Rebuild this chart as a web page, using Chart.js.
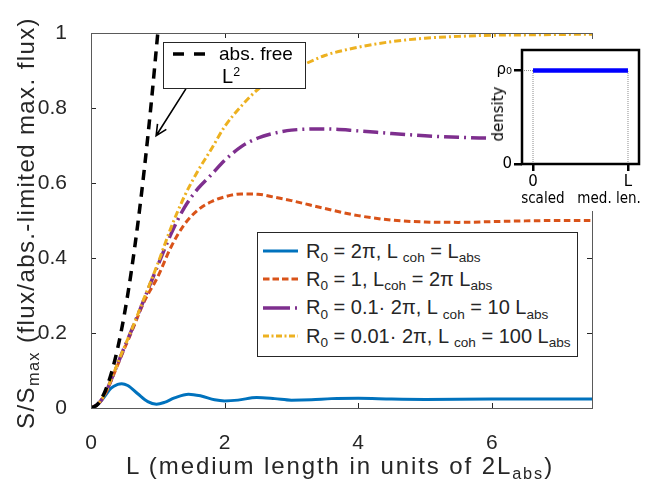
<!DOCTYPE html>
<html>
<head>
<meta charset="utf-8">
<script src="https://cdn.jsdelivr.net/npm/chart.js@4.4.1/dist/chart.umd.min.js"></script>
<style>
body { margin: 0; background: #fff; }
#wrap { position: relative; width: 646px; height: 486px; overflow: hidden;
        font-family: "Liberation Sans", Arial, sans-serif; color: #262626; }
#wrap canvas { position: absolute; }
.sub { font-size: 68%; position: relative; top: 0.32em; }
.sup { font-size: 62%; position: relative; top: -0.55em; }
#ytitle { position: absolute; left: 27px; top: 223px; white-space: nowrap; font-size: 24px;
          letter-spacing: 1.4px; transform: translate(-50%, -50%) rotate(-90deg); line-height: 24px; }
#xtitle { position: absolute; left: 340px; top: 454px; white-space: nowrap; font-size: 24px;
          letter-spacing: 1.9px; transform: translateX(-50%); line-height: 24px; }
#legend { position: absolute; left: 257px; top: 232px; width: 319px; height: 119px;
          border: 1px solid #262626; background: #fff; padding-top: 4px; box-sizing: content-box; }
#legend .row { display: flex; align-items: center; height: 28.3px; font-size: 20px; white-space: nowrap; }
#legend svg { margin-left: 5px; margin-right: 8px; flex: none; }
#note { position: absolute; left: 163px; top: 42px; width: 141px; height: 45px;
        border: 1px solid #262626; background: #fff; color: #000; }
#note .l1 { position: absolute; left: 9px; top: 0; height: 22px; display: flex; align-items: center;
            font-size: 19px; white-space: nowrap; }
#note .l2 { position: absolute; left: 58px; top: 22px; font-size: 20px; line-height: 22px; }
#insetLabelY { position: absolute; left: 498px; top: 114px; font-family: "DejaVu Sans", sans-serif;
               font-size: 15px; color: #000; transform: translate(-50%, -50%) rotate(-90deg); white-space: nowrap; }
#insetLabelX { position: absolute; left: 581px; top: 190px; font-family: "Liberation Sans Narrow", "DejaVu Sans Condensed", sans-serif;
               font-size: 15px; color: #000; transform: translateX(-50%); white-space: pre; line-height: 16px; }
</style>
</head>
<body>
<div id="wrap">
  <canvas id="main" width="646" height="486"></canvas>
  <div id="ytitle">S/S<span class="sub">max</span> (flux/abs.-limited max. flux)</div>
  <div id="xtitle">L (medium length in units of 2L<span class="sub">abs</span>)</div>
  <div id="note">
    <div class="l1"><svg width="34" height="6"><line x1="0" y1="3" x2="34" y2="3" stroke="#000" stroke-width="3.5" stroke-dasharray="11 10"/></svg><span style="margin-left:12px">abs. free</span></div>
    <div class="l2">L<span class="sup">2</span></div>
  </div>
  <div id="legend">
    <div class="row"><svg width="35" height="6"><line x1="0" y1="3" x2="35" y2="3" stroke="#0072BD" stroke-width="3"/></svg><span>R<span class="sub">0</span> = 2π, L <span class="sub">coh</span> = L<span class="sub">abs</span></span></div>
    <div class="row"><svg width="35" height="6"><line x1="0" y1="3" x2="35" y2="3" stroke="#D95319" stroke-width="3" stroke-dasharray="6.5 3"/></svg><span>R<span class="sub">0</span> = 1, L<span class="sub">coh</span> = 2π L<span class="sub">abs</span></span></div>
    <div class="row"><svg width="35" height="6"><line x1="0" y1="3" x2="35" y2="3" stroke="#7E2F8E" stroke-width="3.5" stroke-dasharray="27 5 2 5"/></svg><span>R<span class="sub">0</span> = 0.1· 2π, L <span class="sub">coh</span> = 10 L<span class="sub">abs</span></span></div>
    <div class="row"><svg width="35" height="6"><line x1="0" y1="3" x2="35" y2="3" stroke="#EDB120" stroke-width="3" stroke-dasharray="6 2.5 2 2.5"/></svg><span>R<span class="sub">0</span> = 0.01· 2π, L <span class="sub">coh</span> = 100 L<span class="sub">abs</span></span></div>
  </div>
  <canvas id="inset" width="157" height="172" style="left:489px;top:39px;background:#fff;"></canvas>
  <div id="insetLabelY">density</div>
  <div id="insetLabelX">scaled   med. len.</div>
</div>
<script>
// axis ticks
var xTicks = [0, 2, 4, 6];
var yTicks = [0, 0.2, 0.4, 0.6, 0.8, 1];
var yTickLabels = ['0', '0.2', '0.4', '0.6', '0.8', '1'];

// shared L grid for the three smooth curves
var lGrid = [0, 0.1, 0.2, 0.3, 0.4, 0.5, 0.6, 0.8, 1.0, 1.2, 1.4, 1.6, 1.8, 2.0, 2.25, 2.5, 2.75, 3.0, 3.5, 4.0, 4.5, 5.0, 5.5, 6.0, 6.5, 7.0, 7.5];
var orangeVals = [0, 0.009, 0.033, 0.072, 0.115, 0.158, 0.2, 0.285, 0.35, 0.43, 0.49, 0.528, 0.55, 0.563, 0.571, 0.57, 0.562, 0.553, 0.532, 0.513, 0.501, 0.496, 0.495, 0.497, 0.499, 0.5, 0.5];
var purpleVals = [0, 0.01, 0.034, 0.074, 0.118, 0.162, 0.204, 0.292, 0.38, 0.465, 0.535, 0.585, 0.622, 0.66, 0.697, 0.72, 0.733, 0.741, 0.744, 0.739, 0.732, 0.726, 0.722, 0.72, 0.72, 0.72, 0.72];
var yellowVals = [0, 0.01, 0.035, 0.075, 0.12, 0.163, 0.205, 0.295, 0.385, 0.482, 0.565, 0.632, 0.69, 0.75, 0.805, 0.85, 0.88, 0.9, 0.94, 0.962, 0.977, 0.986, 0.991, 0.994, 0.995, 0.996, 0.997];

// R0 = 2pi curve, finer near the wiggles
var blueL = [0, 0.1, 0.2, 0.3, 0.4, 0.46, 0.55, 0.7, 0.85, 0.98, 1.1, 1.25, 1.46, 1.65, 1.85, 2.0, 2.2, 2.48, 2.75, 3.0, 3.3, 3.6, 4.0, 4.5, 5.0, 6.0, 7.5];
var blueVals = [0, 0.009, 0.03, 0.053, 0.063, 0.065, 0.06, 0.038, 0.017, 0.01, 0.015, 0.027, 0.037, 0.032, 0.022, 0.019, 0.021, 0.028, 0.025, 0.021, 0.022, 0.025, 0.026, 0.024, 0.023, 0.024, 0.024];

// absorption free reference
var freeL = [0, 0.1, 0.2, 0.3, 0.4, 0.5, 0.6, 0.7, 0.8, 0.9, 1.0];
var freeVals = [0, 0.01, 0.04, 0.09, 0.16, 0.25, 0.36, 0.49, 0.64, 0.81, 1.0];

// arrow of the annotation, in data units: tail, head
var arrowFrom = [1.42, 0.851];
var arrowTo = [0.975, 0.726];

// inset: density profile
var insetX = [0, 1];
var insetDensity = [1, 1];

function pts(xs, ys) {
    return xs.map(function(x, i) { return {x: x, y: ys[i]}; });
}

var tickFont = {family: '"Liberation Sans", Arial, sans-serif', size: 21};

var frame = {
    id: 'frame',
    afterDatasetsDraw: function(chart) {
        var ctx = chart.ctx, a = chart.chartArea;
        var xs = chart.scales.x, ys = chart.scales.y;
        ctx.save();
        ctx.strokeStyle = '#262626';
        ctx.lineWidth = 1;
        ctx.beginPath();
        xTicks.forEach(function(v) {
            var px = Math.round(xs.getPixelForValue(v)) + 0.5;
            ctx.moveTo(px, a.bottom); ctx.lineTo(px, a.bottom - 5);
            ctx.moveTo(px, a.top); ctx.lineTo(px, a.top + 5);
        });
        yTicks.forEach(function(v) {
            var py = Math.round(ys.getPixelForValue(v)) + 0.5;
            ctx.moveTo(a.left, py); ctx.lineTo(a.left + 5, py);
            ctx.moveTo(a.right, py); ctx.lineTo(a.right - 5, py);
        });
        ctx.stroke();
        ctx.strokeStyle = '#5a5a5a';
        ctx.strokeRect(Math.round(a.left) + 0.5, Math.round(a.top) + 0.5, Math.round(a.right - a.left), Math.round(a.bottom - a.top));

        // annotation arrow
        var x0 = xs.getPixelForValue(arrowFrom[0]), y0 = ys.getPixelForValue(arrowFrom[1]);
        var x1 = xs.getPixelForValue(arrowTo[0]), y1 = ys.getPixelForValue(arrowTo[1]);
        var ang = Math.atan2(y1 - y0, x1 - x0);
        ctx.strokeStyle = '#000';
        ctx.lineWidth = 1.6;
        ctx.beginPath();
        ctx.moveTo(x0, y0); ctx.lineTo(x1, y1);
        ctx.moveTo(x1 - 12 * Math.cos(ang - 0.45), y1 - 12 * Math.sin(ang - 0.45));
        ctx.lineTo(x1, y1);
        ctx.lineTo(x1 - 12 * Math.cos(ang + 0.45), y1 - 12 * Math.sin(ang + 0.45));
        ctx.stroke();
        ctx.restore();
    }
};

new Chart(document.getElementById('main'), {
    type: 'line',
    data: {
        datasets: [
            {label: 'abs. free', data: pts(freeL, freeVals), borderColor: '#000', borderWidth: 3.5, borderDash: [10, 7]},
            {label: 'R0 = 0.01 2pi', data: pts(lGrid, yellowVals), borderColor: '#EDB120', borderWidth: 3, borderDash: [7, 3, 2, 3]},
            {label: 'R0 = 0.1 2pi', data: pts(lGrid, purpleVals), borderColor: '#7E2F8E', borderWidth: 3.5, borderDash: [15, 5, 2, 5]},
            {label: 'R0 = 1', data: pts(lGrid, orangeVals), borderColor: '#D95319', borderWidth: 3, borderDash: [6.5, 3.5]},
            {label: 'R0 = 2pi', data: pts(blueL, blueVals), borderColor: '#0072BD', borderWidth: 3}
        ]
    },
    options: {
        responsive: false,
        devicePixelRatio: 1,
        animation: false,
        layout: {padding: {left: 0, top: 33, right: 54, bottom: 0}},
        elements: {point: {radius: 0}, line: {cubicInterpolationMode: 'monotone', fill: false}},
        plugins: {legend: {display: false}, tooltip: {enabled: false}},
        scales: {
            x: {
                type: 'linear', min: 0, max: 7.5,
                afterBuildTicks: function(s) { s.ticks = xTicks.map(function(v) { return {value: v}; }); },
                afterFit: function(s) { s.height = 78; },
                ticks: {font: tickFont, color: '#262626', padding: 15, maxRotation: 0,
                        callback: function(v) { return String(v); }},
                grid: {display: false},
                border: {display: false}
            },
            y: {
                min: 0, max: 1,
                afterBuildTicks: function(s) { s.ticks = yTicks.map(function(v) { return {value: v}; }); },
                afterFit: function(s) { s.width = 91; },
                ticks: {font: tickFont, color: '#262626', padding: 16,
                        callback: function(v) { return yTickLabels[yTicks.indexOf(v)]; }},
                grid: {display: false},
                border: {display: false}
            }
        }
    },
    plugins: [frame]
});

var insetBox = {
    id: 'insetBox',
    afterDraw: function(chart) {
        var ctx = chart.ctx, a = chart.chartArea;
        ctx.save();
        ctx.strokeStyle = '#000';
        ctx.lineWidth = 2.5;
        ctx.strokeRect(a.left, a.top, a.right - a.left, a.bottom - a.top);
        ctx.restore();
    }
};

var insetFont = {family: '"DejaVu Sans", sans-serif', size: 15};
new Chart(document.getElementById('inset'), {
    type: 'line',
    data: {
        datasets: [
            {data: pts(insetX, insetDensity), borderColor: '#0000FF', borderWidth: 4.5},
            {data: [{x: insetX[0], y: 0}, {x: insetX[0], y: insetDensity[0]}], borderColor: '#8c8c8c', borderWidth: 1, borderDash: [1, 1]},
            {data: [{x: insetX[1], y: 0}, {x: insetX[1], y: insetDensity[1]}], borderColor: '#8c8c8c', borderWidth: 1, borderDash: [1, 1]},
            {data: [{x: -0.116, y: insetDensity[0]}, {x: insetX[0], y: insetDensity[0]}], borderColor: '#8c8c8c', borderWidth: 1, borderDash: [1, 1]}
        ]
    },
    options: {
        responsive: false,
        devicePixelRatio: 1,
        animation: false,
        layout: {padding: {left: 0, top: 8, right: 7, bottom: 0}},
        elements: {point: {radius: 0}},
        plugins: {legend: {display: false}, tooltip: {enabled: false}},
        scales: {
            x: {
                type: 'linear', min: -0.116, max: 1.116,
                afterBuildTicks: function(s) { s.ticks = [{value: 0}, {value: 1}]; },
                afterFit: function(s) { s.height = 47; },
                ticks: {font: insetFont, color: '#000', padding: 2, maxRotation: 0,
                        callback: function(v) { return v === 0 ? '0' : 'L'; }},
                grid: {drawOnChartArea: false, drawTicks: true, tickLength: 7, color: '#000', lineWidth: 2.5},
                border: {display: false}
            },
            y: {
                min: 0, max: 1.22,
                afterBuildTicks: function(s) { s.ticks = [{value: 0}, {value: 1}]; },
                afterFit: function(s) { s.width = 33; },
                ticks: {font: insetFont, color: '#000', padding: 2,
                        callback: function(v) { return v === 0 ? '0' : 'ρ₀'; }},
                grid: {drawOnChartArea: false, drawTicks: true, tickLength: 8, color: '#000', lineWidth: 2.5},
                border: {display: false}
            }
        }
    },
    plugins: [insetBox]
});
</script>
</body>
</html>
